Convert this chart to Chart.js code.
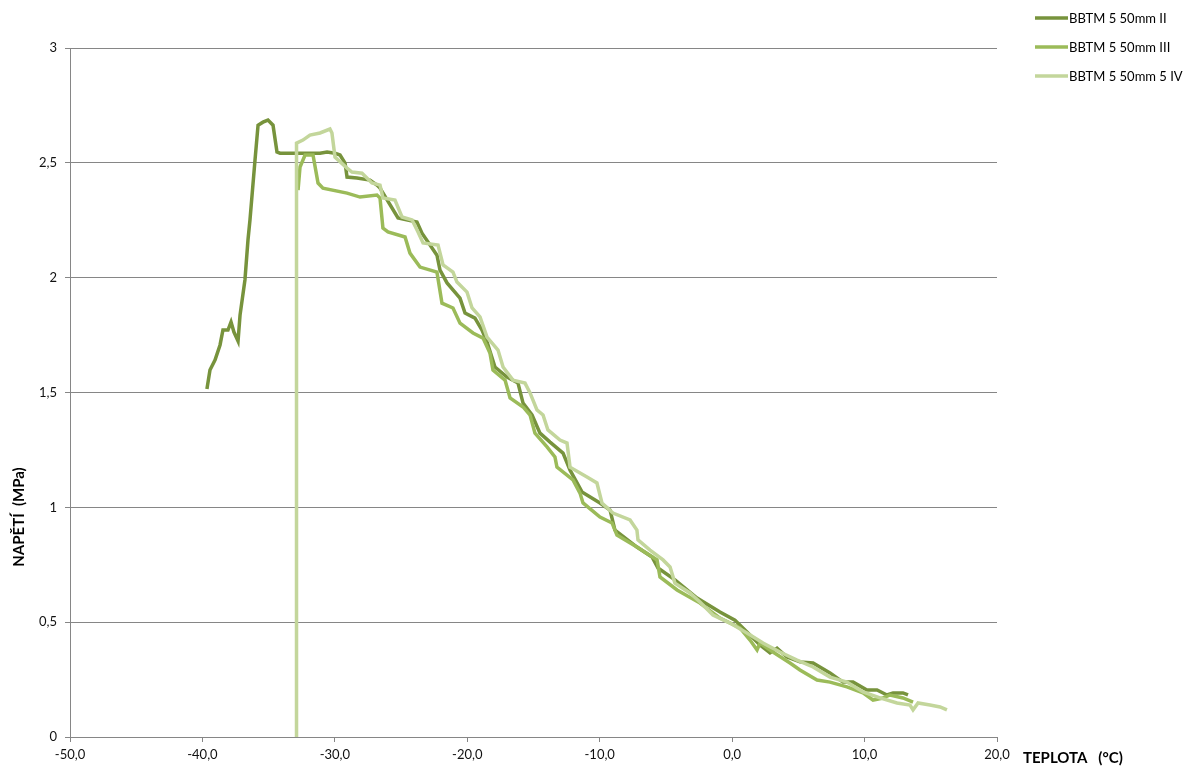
<!DOCTYPE html>
<html>
<head>
<meta charset="utf-8">
<script src="https://cdn.jsdelivr.net/npm/chart.js@4"></script>
<style>
  html, body { margin: 0; padding: 0; background: #ffffff; }
  #chart { display: block; }
</style>
</head>
<body>
<canvas id="chart" width="1195" height="769"></canvas>
<script>
// Stress vs. temperature, three BBTM 5 50mm specimens
const seriesLabels = ['BBTM 5 50mm II', 'BBTM 5 50mm III', 'BBTM 5 50mm 5 IV'];
const seriesColors = ['#77933c', '#9bbb59', '#c3d69b'];

const tempII = [-39.66, -39.43, -39.05, -38.67, -38.45, -38.07, -37.84, -37.62, -37.31, -37.16,
  -36.79, -36.56, -36.41, -36.03, -35.80, -35.43, -35.05, -34.67, -34.37, -34.14,
  -32.63, -31.12, -30.59, -29.99, -29.61, -29.23, -29.08, -28.33, -27.35, -26.82,
  -26.59, -25.23, -23.80, -23.42, -22.29, -22.06, -21.53, -20.55, -20.17, -19.42,
  -18.89, -18.51, -17.91, -17.00, -16.17, -15.79, -15.11, -14.51, -13.75, -12.77,
  -12.24, -11.34, -9.98, -9.22, -8.85, -7.19, -6.05, -5.60, -4.32, -2.65,
  -0.92, 0.21, 1.12, 2.10, 2.86, 3.39, 4.14, 5.12, 6.11, 7.39,
  8.37, 9.13, 10.18, 10.94, 11.69, 12.15, 12.90, 13.28];
const stressII = [1.515, 1.598, 1.641, 1.707, 1.772, 1.772, 1.807, 1.763, 1.724, 1.837,
  1.990, 2.164, 2.251, 2.512, 2.664, 2.677, 2.686, 2.664, 2.547, 2.542,
  2.542, 2.542, 2.547, 2.542, 2.534, 2.499, 2.438, 2.434, 2.425, 2.403,
  2.390, 2.260, 2.242, 2.194, 2.098, 2.033, 1.977, 1.911, 1.846, 1.824,
  1.772, 1.720, 1.611, 1.567, 1.541, 1.454, 1.402, 1.323, 1.284, 1.236,
  1.162, 1.067, 1.019, 0.988, 0.901, 0.827, 0.784, 0.736, 0.684, 0.605,
  0.544, 0.509, 0.457, 0.401, 0.366, 0.387, 0.348, 0.327, 0.322, 0.279,
  0.239, 0.239, 0.205, 0.205, 0.183, 0.192, 0.192, 0.183];

const tempIII = [-32.78, -32.63, -32.25, -31.65, -31.27, -30.90, -29.08, -28.10, -26.82, -26.59,
  -26.37, -25.99, -24.70, -24.33, -23.57, -22.29, -21.91, -21.08, -20.55, -19.57,
  -18.81, -18.29, -18.06, -17.15, -16.77, -15.79, -15.26, -14.89, -13.98, -13.38,
  -13.23, -12.02, -11.49, -11.26, -9.98, -9.07, -8.70, -7.19, -5.67, -5.45,
  -4.16, -2.43, -0.92, 0.59, 1.35, 1.88, 2.10, 3.08, 4.37, 5.12,
  6.41, 7.39, 8.67, 9.88, 10.64, 11.39, 11.92, 12.90, 13.66];
const stressIII = [2.381, 2.482, 2.534, 2.534, 2.412, 2.390, 2.368, 2.351, 2.360, 2.347,
  2.216, 2.199, 2.177, 2.107, 2.046, 2.024, 1.889, 1.868, 1.802, 1.759,
  1.737, 1.672, 1.598, 1.554, 1.476, 1.437, 1.402, 1.323, 1.263, 1.219,
  1.175, 1.119, 1.062, 1.019, 0.958, 0.932, 0.879, 0.827, 0.771, 0.697,
  0.640, 0.583, 0.518, 0.475, 0.422, 0.379, 0.409, 0.370, 0.322, 0.292,
  0.248, 0.239, 0.218, 0.192, 0.161, 0.170, 0.183, 0.170, 0.152];

const tempIV = [-32.93, -32.93, -32.86, -32.41, -31.88, -31.12, -30.37, -30.22, -29.99, -29.08,
  -28.71, -27.95, -27.20, -26.59, -26.37, -25.46, -24.93, -24.17, -23.72, -23.34,
  -22.21, -21.83, -21.08, -20.78, -20.02, -19.64, -19.04, -18.51, -17.68, -17.30,
  -16.55, -15.64, -15.26, -14.74, -14.28, -13.91, -13.00, -12.47, -12.24, -10.96,
  -10.21, -9.83, -9.00, -7.71, -7.19, -7.11, -6.20, -5.22, -4.69, -4.32,
  -3.18, -2.43, -1.45, -0.16, 1.12, 2.33, 3.61, 4.90, 6.11, 7.39,
  8.67, 9.88, 11.16, 12.45, 13.43, 13.66, 14.04, 14.94, 15.70, 16.22];
const stressIV = [0.000, 2.468, 2.586, 2.599, 2.621, 2.630, 2.647, 2.630, 2.525, 2.477,
  2.460, 2.455, 2.412, 2.403, 2.347, 2.338, 2.264, 2.251, 2.199, 2.151,
  2.142, 2.055, 2.024, 1.981, 1.937, 1.868, 1.829, 1.741, 1.685, 1.611,
  1.554, 1.541, 1.498, 1.424, 1.402, 1.337, 1.293, 1.280, 1.175, 1.132,
  1.106, 1.019, 0.975, 0.945, 0.901, 0.858, 0.814, 0.771, 0.740, 0.670,
  0.627, 0.588, 0.531, 0.496, 0.453, 0.409, 0.370, 0.335, 0.305, 0.261,
  0.239, 0.196, 0.170, 0.148, 0.139, 0.118, 0.148, 0.139, 0.131, 0.118];

const xTicks = [-50, -40, -30, -20, -10, 0, 10, 20];
const yTicks = [0, 0.5, 1, 1.5, 2, 2.5, 3];

const allTemps = [tempII, tempIII, tempIV];
const allStress = [stressII, stressIII, stressIV];

const gridGray = '#868686';
const FONT = 'Lato, "Open Sans", sans-serif';

// legend + axis titles, drawn Excel-style outside the plot
const excelExtras = {
  id: 'excelExtras',
  afterDraw(chart) {
    const { ctx } = chart;
    ctx.save();
    chart.data.datasets.forEach((ds, i) => {
      const y = 18 + i * 29;
      ctx.strokeStyle = ds.borderColor;
      ctx.lineWidth = 3.5;
      ctx.beginPath();
      ctx.moveTo(1035, y);
      ctx.lineTo(1068, y);
      ctx.stroke();
      ctx.fillStyle = '#000';
      ctx.font = '13px ' + FONT;
      ctx.textBaseline = 'middle';
      ctx.textAlign = 'left';
      ctx.fillText(ds.label, 1069, y + 0.5);
    });

    ctx.font = 'bold 15px ' + FONT;
    ctx.fillStyle = '#000';
    ctx.textBaseline = 'middle';
    ctx.textAlign = 'left';
    ctx.fillText('TEPLOTA   (°C)', 1023, 758);

    ctx.translate(19, 517);
    ctx.rotate(-Math.PI / 2);
    ctx.textAlign = 'center';
    ctx.fillText('NAPĚTÍ  (MPa)', 0, 0);
    ctx.restore();
  }
};

const datasets = seriesLabels.map((label, i) => ({
  label,
  data: allTemps[i].map((t, k) => ({ x: t, y: allStress[i][k] })),
  borderColor: seriesColors[i],
  backgroundColor: seriesColors[i],
  borderWidth: 3.5,
  pointRadius: 0,
  showLine: true,
  tension: 0,
  order: 3 - i
}));

new Chart(document.getElementById('chart'), {
  type: 'scatter',
  data: { datasets },
  options: {
    responsive: false,
    devicePixelRatio: 1,
    animation: false,
    layout: { padding: { left: 0, top: 48, right: 198, bottom: 0 } },
    plugins: {
      legend: { display: false },
      tooltip: { enabled: false }
    },
    scales: {
      x: {
        type: 'linear',
        min: xTicks[0],
        max: xTicks[xTicks.length - 1],
        afterBuildTicks: s => { s.ticks = xTicks.map(v => ({ value: v })); },
        afterFit: s => { s.height = 32; },
        grid: { drawOnChartArea: false, drawTicks: true, tickLength: 5, color: gridGray },
        border: { color: gridGray, width: 1 },
        ticks: {
          padding: 5,
          color: '#111',
          font: { family: FONT, size: 13 },
          maxRotation: 0,
          callback: v => v.toFixed(1).replace('.', ',')
        }
      },
      y: {
        type: 'linear',
        min: yTicks[0],
        max: yTicks[yTicks.length - 1],
        afterBuildTicks: s => { s.ticks = yTicks.map(v => ({ value: v })); },
        afterFit: s => { s.width = 70; },
        grid: { color: gridGray, lineWidth: 1, tickLength: 5, drawTicks: true },
        border: { color: gridGray, width: 1 },
        ticks: {
          padding: 8,
          color: '#111',
          font: { family: FONT, size: 13 },
          callback: v => String(v).replace('.', ',')
        }
      }
    }
  },
  plugins: [excelExtras]
});
</script>
</body>
</html>
